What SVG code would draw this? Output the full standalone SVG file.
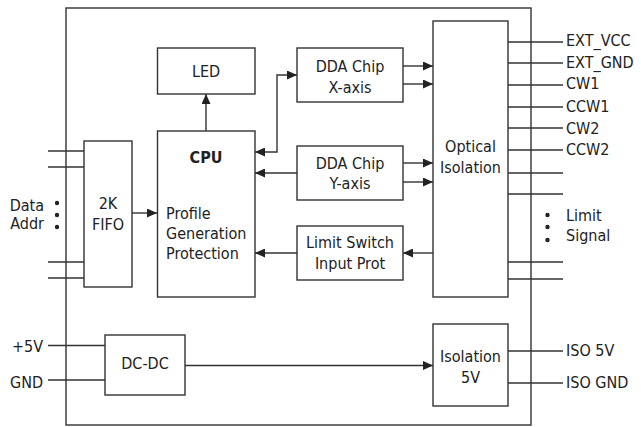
<svg xmlns="http://www.w3.org/2000/svg" width="641" height="427" viewBox="0 0 641 427">
<defs>
<style>
.box{fill:#fff;stroke:#333;stroke-width:1.4}
.ln{fill:none;stroke:#333;stroke-width:1.4}
text{font-family:"DejaVu Sans Condensed","DejaVu Sans","Liberation Sans",sans-serif;font-stretch:condensed;font-size:16px;fill:#222}
.c{text-anchor:middle}
.e{text-anchor:end}
.b{font-weight:bold}
</style>
<marker id="ah" viewBox="0 0 10 9" refX="10" refY="4.5" markerWidth="10" markerHeight="9" orient="auto-start-reverse" markerUnits="userSpaceOnUse"><path d="M0,0 L10,4.5 L0,9 z" fill="#222"/></marker>
</defs>
<rect width="641" height="427" fill="#fff"/>
<rect id="frame" x="66" y="8" width="465" height="417" class="ln"/>

<g id="connectors">
<path class="ln" d="M48,151H84M48,167H84M48,262H84M48,278H84"/>
<path class="ln" d="M132,213H157" marker-end="url(#ah)"/>
<path class="ln" d="M206,131V94" marker-end="url(#ah)"/>
<path class="ln" d="M255,152H277V75H297" marker-start="url(#ah)" marker-end="url(#ah)"/>
<path class="ln" d="M297,173H255" marker-end="url(#ah)"/>
<path class="ln" d="M297,253H255" marker-end="url(#ah)"/>
<path class="ln" d="M403,66H433" marker-end="url(#ah)"/>
<path class="ln" d="M403,84H433" marker-end="url(#ah)"/>
<path class="ln" d="M403,163H433" marker-end="url(#ah)"/>
<path class="ln" d="M403,182H433" marker-end="url(#ah)"/>
<path class="ln" d="M433,253H403" marker-end="url(#ah)"/>
<path class="ln" d="M508,42H563M508,63H563M508,85H563M508,107H563M508,128H563M508,150H563M508,173H563M508,194H563M508,262H563M508,279H563"/>
<path class="ln" d="M48,345.5H105M48,380H105"/>
<path class="ln" d="M185,365.5H433" marker-end="url(#ah)"/>
<path class="ln" d="M508,351H563M508,383H563"/>
</g>

<g id="led"><rect class="box" x="157.5" y="48" width="97.5" height="46"/><text class="c" x="206" y="77">LED</text></g>
<g id="cpu"><rect class="box" x="157.5" y="131" width="97.5" height="166"/>
<text class="c b" x="206" y="163">CPU</text>
<text x="166" y="219">Profile</text>
<text x="166" y="239">Generation</text>
<text x="166" y="259">Protection</text></g>
<g id="fifo"><rect class="box" x="84" y="141" width="48" height="146"/>
<text class="c" x="108" y="209">2K</text>
<text class="c" x="108" y="230">FIFO</text></g>
<g id="data-addr">
<text class="e" x="44" y="211">Data</text>
<text class="e" x="44" y="229">Addr</text>
<circle cx="57" cy="203" r="2.2" fill="#222"/>
<circle cx="57" cy="215" r="2.2" fill="#222"/>
<circle cx="57" cy="227" r="2.2" fill="#222"/>
</g>
<g id="ddax"><rect class="box" x="297" y="48" width="106" height="54"/>
<text class="c" x="350" y="72">DDA Chip</text>
<text class="c" x="350" y="93">X-axis</text></g>
<g id="dday"><rect class="box" x="297" y="146" width="106" height="54"/>
<text class="c" x="350" y="169">DDA Chip</text>
<text class="c" x="350" y="189">Y-axis</text></g>
<g id="limitsw"><rect class="box" x="297" y="226" width="106" height="54"/>
<text class="c" x="350" y="247.5">Limit Switch</text>
<text class="c" x="350" y="268.5">Input Prot</text></g>
<g id="optical"><rect class="box" x="433" y="21" width="75" height="276"/>
<text class="c" x="470.5" y="151.5">Optical</text>
<text class="c" x="470.5" y="172.5">Isolation</text></g>
<g id="signals">
<text x="566" y="46">EXT_VCC</text>
<text x="566" y="67.5">EXT_GND</text>
<text x="566" y="89">CW1</text>
<text x="566" y="111.5">CCW1</text>
<text x="566" y="133.5">CW2</text>
<text x="566" y="155">CCW2</text>
<circle cx="547.5" cy="215" r="2.2" fill="#222"/>
<circle cx="547.5" cy="227" r="2.2" fill="#222"/>
<circle cx="547.5" cy="240" r="2.2" fill="#222"/>
<text x="566" y="221">Limit</text>
<text x="566" y="241">Signal</text>
</g>
<g id="dcdc"><rect class="box" x="105" y="335" width="80" height="60"/>
<text class="c" x="145" y="369">DC-DC</text></g>
<g id="power-in">
<text class="e" x="43" y="351.5">+5V</text>
<text class="e" x="43" y="387.5">GND</text>
</g>
<g id="iso5v"><rect class="box" x="433" y="324" width="75" height="82"/>
<text class="c" x="470.5" y="361.5">Isolation</text>
<text class="c" x="470.5" y="382.5">5V</text></g>
<g id="iso-out">
<text x="566" y="356">ISO 5V</text>
<text x="566" y="388">ISO GND</text>
</g>
</svg>
